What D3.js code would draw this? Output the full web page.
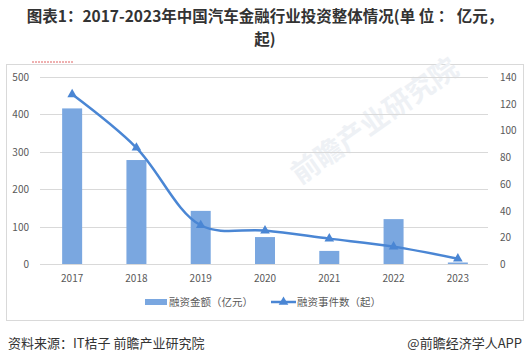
<!DOCTYPE html>
<html>
<head>
<meta charset="utf-8">
<script src="https://cdn.jsdelivr.net/npm/d3@7"></script>
<style>
  body { margin: 0; background: #fff; }
  svg { font-family: "Noto Sans CJK SC", "Microsoft YaHei", sans-serif; }
</style>
</head>
<body>
<svg id="chart" width="529" height="364"></svg>
<script>
/** Chart data */
var years = ['2017', '2018', '2019', '2020', '2021', '2022', '2023'];
var amounts = [416, 278, 142, 72, 35, 120, 4];   // 融资金额（亿元）
var events = [127, 87, 29, 25, 19, 13, 4];       // 融资事件数（起）
var leftTicks = [0, 100, 200, 300, 400, 500];
var rightTicks = [0, 20, 40, 60, 80, 100, 120, 140];

var barColor = '#7aa7e0',
    lineColor = '#4a86d4',
    gridColor = '#d9d9d9',
    labelColor = '#595959';

var svg = d3.select('#chart');

// title
var title = svg.append('g').attr('font-weight', 'bold').attr('fill', '#333')
  .attr('text-anchor', 'middle').attr('font-size', 15.5);
title.append('text').attr('x', 265).attr('y', 22)
  .text('图表1：2017-2023年中国汽车金融行业投资整体情况(单 位 ： 亿元，');
title.append('text').attr('x', 265).attr('y', 45).text('起)');

// chart frame
svg.append('rect').attr('x', 6.5).attr('y', 64.5).attr('width', 517).attr('height', 256)
  .attr('fill', 'none').attr('stroke', gridColor);

// small red dotted mark at the top
svg.append('line').attr('x1', 32).attr('x2', 74).attr('y1', 62).attr('y2', 62)
  .attr('stroke', '#e06060').attr('stroke-dasharray', '2,1');

// watermark
svg.append('text').attr('transform', 'translate(300,185) rotate(-35)')
  .attr('font-size', 28).attr('font-weight', 'bold').attr('fill', '#eef1f5')
  .text('前瞻产业研究院');

/** scales */
var x = d3.scaleBand().domain(years).range([40, 490]);
var yLeft = d3.scaleLinear().domain([0, 500]).range([264, 77]);
var yRight = d3.scaleLinear().domain([0, 140]).range([264, 77]);

// gridlines
svg.append('g').selectAll('line').data(leftTicks).enter().append('line')
  .attr('x1', 40).attr('x2', 488)
  .attr('y1', function(d) { return Math.round(yLeft(d)) + 0.5; })
  .attr('y2', function(d) { return Math.round(yLeft(d)) + 0.5; })
  .attr('stroke', gridColor);

// left axis labels
svg.append('g').selectAll('text').data(leftTicks).enter().append('text')
  .attr('x', 29).attr('y', function(d) { return yLeft(d) + 4; })
  .attr('text-anchor', 'end').attr('font-size', 10).attr('fill', labelColor)
  .text(function(d) { return d; });

// right axis labels
svg.append('g').selectAll('text').data(rightTicks).enter().append('text')
  .attr('x', 500).attr('y', function(d) { return yRight(d) + 4; })
  .attr('font-size', 10).attr('fill', labelColor)
  .text(function(d) { return d; });

// x axis labels
svg.append('g').selectAll('text').data(years).enter().append('text')
  .attr('x', function(d) { return x(d) + x.bandwidth() / 2; })
  .attr('y', 282).attr('text-anchor', 'middle')
  .attr('font-size', 10).attr('fill', labelColor)
  .text(function(d) { return d; });

// bars
var barW = 20;
svg.append('g').selectAll('rect').data(amounts).enter().append('rect')
  .attr('x', function(d, i) { return x(years[i]) + x.bandwidth() / 2 - barW / 2; })
  .attr('y', function(d) { return yLeft(d); })
  .attr('width', barW)
  .attr('height', function(d) { return yLeft(0) - yLeft(d); })
  .attr('fill', barColor);

// smooth line
var line = d3.line()
  .x(function(d, i) { return x(years[i]) + x.bandwidth() / 2; })
  .y(function(d) { return yRight(d); })
  .curve(d3.curveCatmullRom.alpha(0.5));

svg.append('path').datum(events)
  .attr('d', line).attr('fill', 'none')
  .attr('stroke', lineColor).attr('stroke-width', 2.5);

// triangle markers
var tri = d3.symbol().type(d3.symbolTriangle).size(40);
svg.append('g').selectAll('path').data(events).enter().append('path')
  .attr('d', tri)
  .attr('transform', function(d, i) {
    return 'translate(' + (x(years[i]) + x.bandwidth() / 2) + ',' + yRight(d) + ')';
  })
  .attr('fill', lineColor);

// legend
var legend = svg.append('g').attr('font-size', 10.5).attr('fill', labelColor);
legend.append('rect').attr('x', 145).attr('y', 299).attr('width', 22).attr('height', 6)
  .attr('fill', barColor);
legend.append('text').attr('x', 169).attr('y', 306).text('融资金额（亿元）');
legend.append('line').attr('x1', 271).attr('x2', 296).attr('y1', 302).attr('y2', 302)
  .attr('stroke', lineColor).attr('stroke-width', 2.5);
legend.append('path').attr('d', tri).attr('transform', 'translate(283.5,302)')
  .attr('fill', lineColor);
legend.append('text').attr('x', 297).attr('y', 306).text('融资事件数（起）');

// footer
svg.append('text').attr('x', 8).attr('y', 348).attr('font-size', 13).attr('fill', '#333')
  .text('资料来源：IT桔子 前瞻产业研究院');
svg.append('text').attr('x', 522).attr('y', 348).attr('text-anchor', 'end')
  .attr('font-size', 13).attr('fill', '#333')
  .text('@前瞻经济学人APP');
</script>
</body>
</html>
